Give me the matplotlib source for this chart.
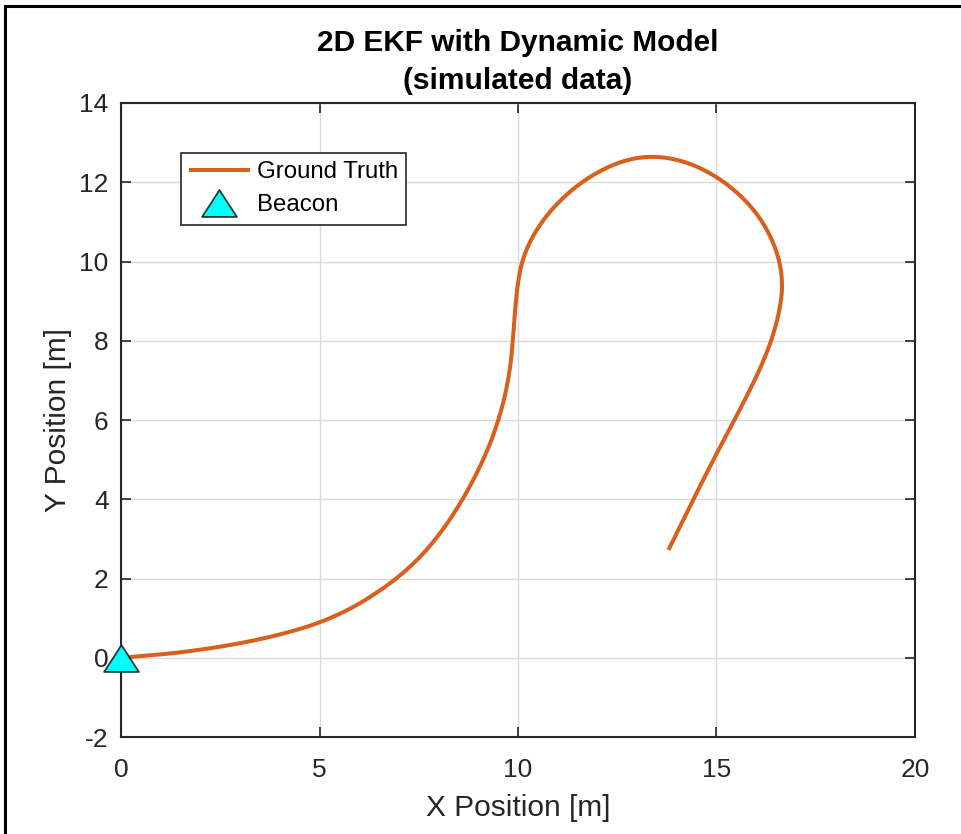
import matplotlib.pyplot as plt
import numpy as np
from matplotlib.lines import Line2D
from matplotlib.path import Path

plt.rcParams['font.family'] = ['Liberation Sans', 'DejaVu Sans']
plt.rcParams['axes.unicode_minus'] = False

# ground truth trajectory [m]
truth_x = [0.0, 1.40, 3.08, 4.10, 5.03, 5.77, 6.44, 7.03, 7.62, 8.12, 8.62, 8.96,
           9.38, 9.67, 9.82, 9.88, 9.92, 10.01, 10.09, 10.30, 10.72, 11.31, 11.98,
           12.57, 13.07, 13.58, 14.33, 15.00, 15.59, 16.10, 16.43, 16.64, 16.68,
           16.60, 16.39, 16.18, 15.84, 15.47, 15.09, 14.75, 14.42, 14.12, 13.79]
truth_y = [0.0, 0.09, 0.36, 0.60, 0.87, 1.21, 1.63, 2.05, 2.59, 3.23, 3.98, 4.66,
           5.50, 6.51, 7.35, 8.05, 8.86, 9.54, 10.03, 10.55, 11.22, 11.81, 12.27,
           12.53, 12.64, 12.67, 12.53, 12.15, 11.73, 11.14, 10.55, 9.88, 9.37,
           8.70, 8.02, 7.44, 6.76, 6.02, 5.33, 4.66, 4.00, 3.39, 2.72]

beacon_x = [0.0]
beacon_y = [0.0]

xticks = [0, 5, 10, 15, 20]
yticks = [-2, 0, 2, 4, 6, 8, 10, 12, 14]

orange = '#D8601C'
ink = '#262626'

# light [1,2,1] pass on the interior points, then centripetal Catmull-Rom
def smooth(xs, ys, n=16, alpha=0.5):
    pts = np.column_stack([xs, ys]).astype(float)
    pts[1:-1] = 0.25 * pts[:-2] + 0.5 * pts[1:-1] + 0.25 * pts[2:]
    pts = np.vstack([2 * pts[0] - pts[1], pts, 2 * pts[-1] - pts[-2]])
    out = []
    for i in range(1, len(pts) - 2):
        p0, p1, p2, p3 = pts[i - 1], pts[i], pts[i + 1], pts[i + 2]
        t0 = 0.0
        t1 = t0 + np.linalg.norm(p1 - p0) ** alpha
        t2 = t1 + np.linalg.norm(p2 - p1) ** alpha
        t3 = t2 + np.linalg.norm(p3 - p2) ** alpha
        for t in np.linspace(t1, t2, n, endpoint=False):
            a1 = (t1 - t) / (t1 - t0) * p0 + (t - t0) / (t1 - t0) * p1
            a2 = (t2 - t) / (t2 - t1) * p1 + (t - t1) / (t2 - t1) * p2
            a3 = (t3 - t) / (t3 - t2) * p2 + (t - t2) / (t3 - t2) * p3
            b1 = (t2 - t) / (t2 - t0) * a1 + (t - t0) / (t2 - t0) * a2
            b2 = (t3 - t) / (t3 - t1) * a2 + (t - t1) / (t3 - t1) * a3
            out.append((t2 - t) / (t2 - t1) * b1 + (t - t1) / (t2 - t1) * b2)
    out.append(pts[-2])
    out = np.array(out)
    return out[:, 0], out[:, 1]

sx, sy = smooth(truth_x, truth_y)

fig = plt.figure(figsize=(9.62, 8.34), dpi=100)
ax = fig.add_axes([0.1258, 0.1163, 0.8253, 0.7602])

tri = Path([(0, 0.85), (-1.1, -0.85), (1.1, -0.85), (0, 0.85)],
           [Path.MOVETO, Path.LINETO, Path.LINETO, Path.CLOSEPOLY])

ax.plot(sx, sy, color=orange, lw=2.9, label='Ground Truth', zorder=3,
        solid_capstyle='butt')
ax.plot(beacon_x, beacon_y, linestyle='none', marker=tri, markersize=25,
        markerfacecolor='#00FFFF', markeredgecolor='#1E3C3C', markeredgewidth=1.3,
        label='Beacon', zorder=4, clip_on=False)

ax.set_xlim(0, 20)
ax.set_ylim(-2, 14)
ax.set_xticks(xticks)
ax.set_yticks(yticks)
ax.grid(True, color='#DADADA', lw=1.0)
ax.set_axisbelow(True)
ax.tick_params(direction='in', length=7, width=1.2, top=True, right=True,
               labelsize=19, colors=ink)
ax.tick_params(axis='x', pad=15)
ax.tick_params(axis='y', pad=9)
for s in ax.spines.values():
    s.set_color(ink)
    s.set_linewidth(1.5)

ax.set_xlabel('X Position [m]', fontsize=21.5, color=ink, labelpad=9)
ax.set_ylabel('Y Position [m]', fontsize=21.5, color=ink, labelpad=5)
ax.set_title('2D EKF with Dynamic Model\n(simulated data)', fontsize=21.5,
             fontweight='bold', color='black', pad=10, linespacing=1.45)

leg = ax.legend(loc='upper left', bbox_to_anchor=(0.0756, 0.921), fontsize=17.3,
                fancybox=False, edgecolor=ink, framealpha=1, handlelength=2.5,
                borderpad=0.35, labelspacing=0.45, handletextpad=0.3,
                borderaxespad=0)
leg.get_frame().set_linewidth(1.2)

# dark frame along the top and left edges
fig.add_artist(Line2D([5 / 962, 1], [1 - 6 / 834, 1 - 6 / 834], color='black', lw=2.2))
fig.add_artist(Line2D([5 / 962, 5 / 962], [0, 1 - 6 / 834], color='black', lw=2.2))

fig.savefig('out.png', dpi=100)
